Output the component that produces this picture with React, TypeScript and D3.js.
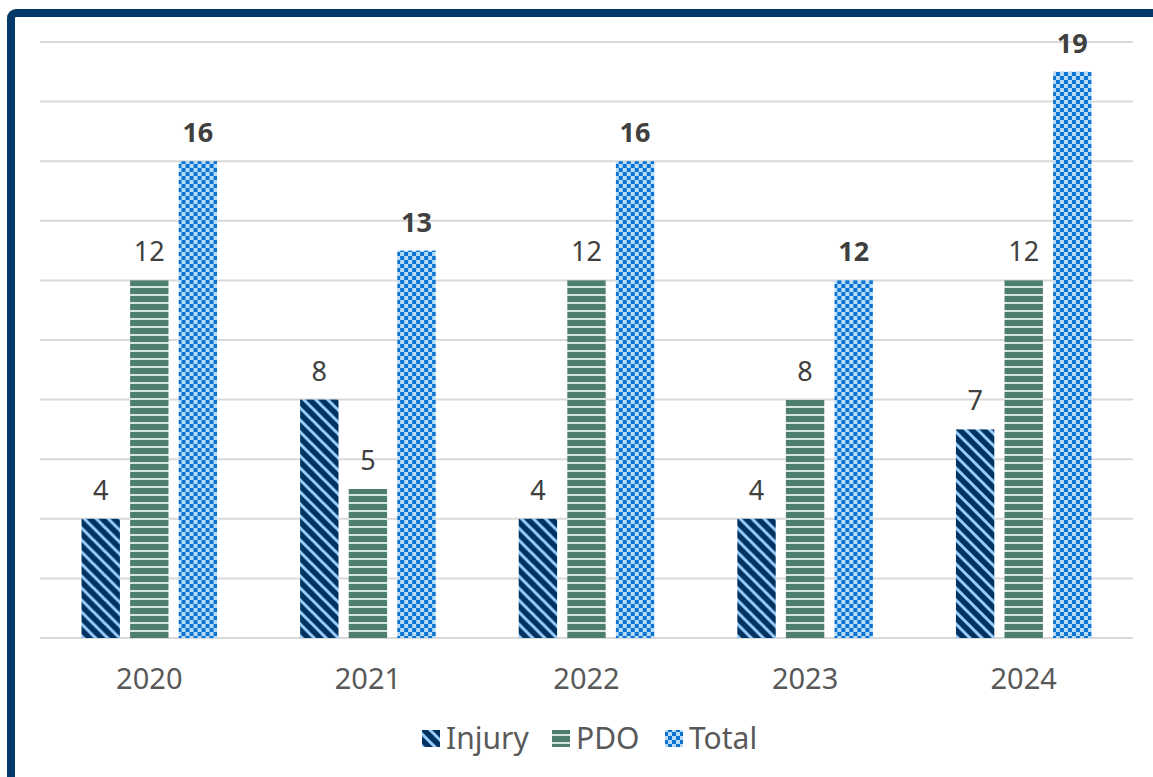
import React from 'react';
import * as d3 from 'd3';

const years = ['2020', '2021', '2022', '2023', '2024'];
const injury = [4, 8, 4, 4, 7];
const pdo = [12, 5, 12, 8, 12];
const total = [16, 13, 16, 12, 19];
const seriesNames = ['Injury', 'PDO', 'Total'];
const yTicks = [0, 2, 4, 6, 8, 10, 12, 14, 16, 18, 20];

const W = 1153;
const H = 777;
const FONT = '"Noto Sans", "Open Sans", sans-serif';

export default function App() {
  const x = d3.scaleBand<string>().domain(years).range([40, 1133]).paddingInner(0.38).paddingOuter(0.19);
  const xs = d3.scaleBand<string>().domain(seriesNames).range([0, x.bandwidth()]).paddingInner(0.21);
  const y = d3.scaleLinear().domain([0, 20]).range([638, 42]);

  const rows = years.map((yr, i) => ({
    year: yr,
    vals: [
      { key: 'Injury', v: injury[i] },
      { key: 'PDO', v: pdo[i] },
      { key: 'Total', v: total[i] },
    ],
  }));

  const fillFor = (k: string) => `url(#pat-${k})`;

  // legend layout
  const legend = [
    { key: 'Injury', x: 422 },
    { key: 'PDO', x: 552 },
    { key: 'Total', x: 665 },
  ];

  return (
    <div style={{ position: 'fixed', left: 0, top: 0 }}>
      <svg width={W} height={H} style={{ display: 'block', background: '#fff' }}>
        <defs>
          <pattern id="pat-Injury" patternUnits="userSpaceOnUse" width={12} height={12}>
            <rect width={12} height={12} fill="#00335F" />
            <path d="M-3,-3 L15,15 M-3,9 L3,15 M9,-3 L15,3" stroke="#99CCFF" strokeWidth={3} />
          </pattern>
          <pattern id="pat-PDO" patternUnits="userSpaceOnUse" width={8} height={8}>
            <rect width={8} height={8} fill="#4E7E6D" />
            <rect y={6} width={8} height={2} fill="#D5E6DC" />
          </pattern>
          <pattern id="pat-Total" patternUnits="userSpaceOnUse" width={8} height={8}>
            <rect width={8} height={8} fill="#0B73D2" />
            <rect width={4} height={4} fill="#B8DCF8" />
            <rect x={4} y={4} width={4} height={4} fill="#B8DCF8" />
          </pattern>
        </defs>

        {/* frame */}
        <rect x={11} y={13} width={1300} height={900} rx={5} fill="none" stroke="#013A68" strokeWidth={8} />

        {/* gridlines */}
        {yTicks.map((t) => (
          <line key={t} x1={40} x2={1133} y1={y(t)} y2={y(t)} stroke="#D9D9D9" strokeWidth={2} />
        ))}

        {rows.map((r) => (
          <g key={r.year} transform={`translate(${x(r.year)},0)`}>
            {r.vals.map((d) => (
              <g key={d.key}>
                <rect
                  x={xs(d.key)}
                  y={y(d.v)}
                  width={xs.bandwidth()}
                  height={y(0) - y(d.v)}
                  fill={fillFor(d.key)}
                />
                <text
                  x={(xs(d.key) as number) + xs.bandwidth() / 2}
                  y={y(d.v) - 19}
                  textAnchor="middle"
                  fontFamily={FONT}
                  fontSize={27}
                  fontWeight={d.key === 'Total' ? 700 : 400}
                  fill="#404040"
                >
                  {d.v}
                </text>
              </g>
            ))}
            <text
              x={x.bandwidth() / 2}
              y={689}
              textAnchor="middle"
              fontFamily={FONT}
              fontSize={29}
              fill="#595959"
            >
              {r.year}
            </text>
          </g>
        ))}

        {/* legend */}
        {legend.map((l) => (
          <g key={l.key}>
            <rect x={l.x} y={730} width={18} height={17} fill={fillFor(l.key)} />
            <text x={l.x + 24} y={749} fontFamily={FONT} fontSize={30} fill="#595959">
              {l.key}
            </text>
          </g>
        ))}
      </svg>
    </div>
  );
}
